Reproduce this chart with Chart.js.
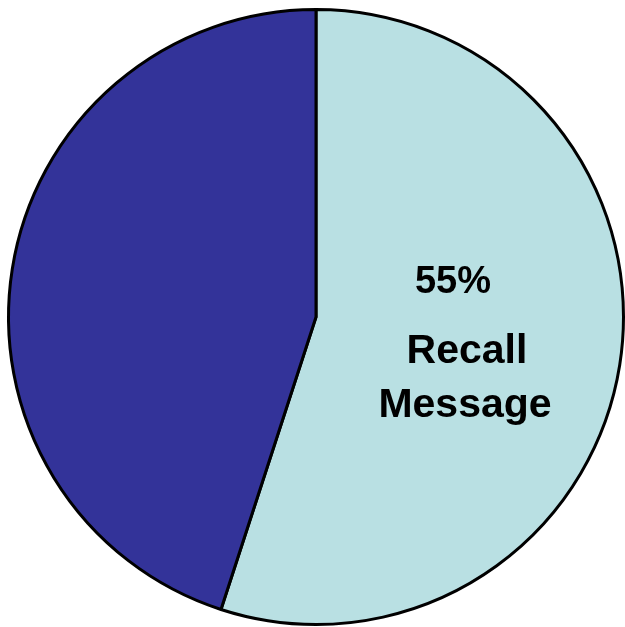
<!DOCTYPE html>
<html>
<head>
<meta charset="utf-8">
<script src="https://cdn.jsdelivr.net/npm/chart.js@4/dist/chart.umd.min.js"></script>
<style>
  html, body { margin: 0; padding: 0; background: #fff; }
  #wrap { width: 625px; height: 627px; }
</style>
</head>
<body>
<div id="wrap"><canvas id="pie"></canvas></div>
<script>
// datos de la torta
const labels = ["Recall Message", "Other"];
const values = [55, 45];
const colores = ["#B9E0E3", "#333399"];

// texto dentro de la porcion clara
const etiquetaPct = "55%";
const etiquetaTexto = ["Recall", "Message"];

const textoPlugin = {
  id: "textoPorcion",
  afterDraw(chart) {
    const arco = chart.getDatasetMeta(0).data[0];
    if (!arco) return;
    const ctx = chart.ctx;
    const cx = arco.x, cy = arco.y;
    ctx.save();
    ctx.fillStyle = "#000";
    ctx.textAlign = "center";
    ctx.textBaseline = "alphabetic";
    ctx.font = "bold 38px 'Liberation Sans', Arial, sans-serif";
    ctx.fillText(etiquetaPct, cx + 137, cy - 24);
    ctx.font = "bold 41px 'Liberation Sans', Arial, sans-serif";
    ctx.fillText(etiquetaTexto[0], cx + 151, cy + 46);
    ctx.fillText(etiquetaTexto[1], cx + 149, cy + 100);
    ctx.restore();
  }
};

const ctx = document.getElementById("pie").getContext("2d");
new Chart(ctx, {
  type: "pie",
  data: {
    labels: labels,
    datasets: [{
      data: values,
      backgroundColor: colores,
      borderColor: "#000",
      borderWidth: 3
    }]
  },
  options: {
    responsive: true,
    maintainAspectRatio: false,
    animation: false,
    layout: { padding: { left: 7, right: 0, top: 8, bottom: 1 } },
    plugins: {
      legend: { display: false },
      tooltip: { enabled: false }
    }
  },
  plugins: [textoPlugin]
});
</script>
</body>
</html>
